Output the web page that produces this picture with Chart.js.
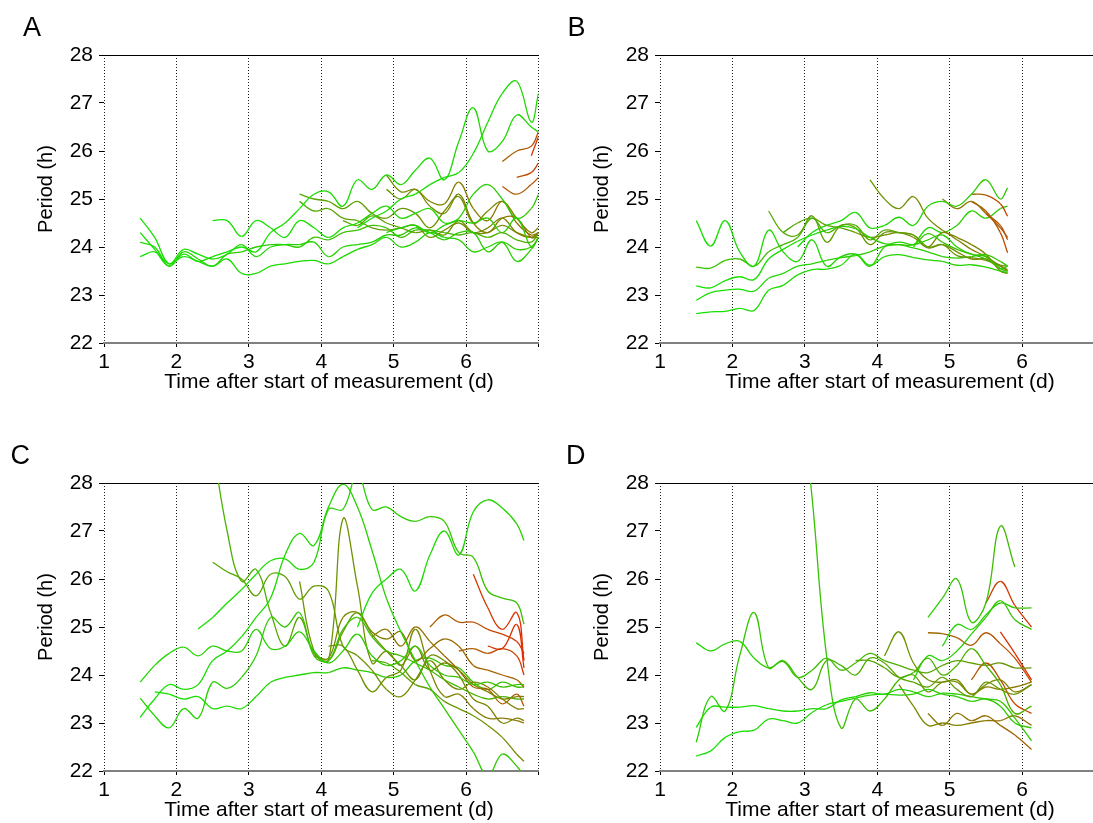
<!DOCTYPE html>
<html>
<head>
<meta charset="utf-8">
<script src="https://cdn.jsdelivr.net/npm/chart.js@4.4.1/dist/chart.umd.min.js"></script>
<style>
  html, body { margin: 0; padding: 0; background: #fff; overflow: hidden; }
  body { width: 1093px; height: 823px; position: relative; }
  .panel { position: absolute; width: 556px; height: 420px; }
</style>
</head>
<body>
<div class="panel" style="left:0;top:0"><canvas id="chartA" width="556" height="420"></canvas></div>
<div class="panel" style="left:556px;top:0"><canvas id="chartB" width="556" height="420"></canvas></div>
<div class="panel" style="left:0;top:428px"><canvas id="chartC" width="556" height="420"></canvas></div>
<div class="panel" style="left:556px;top:428px"><canvas id="chartD" width="556" height="420"></canvas></div>
<script>
// Panel A (time in days, period in hours)
const timesA = [1.5, 1.7, 1.9, 2.1, 2.3, 2.5, 2.7, 2.9, 3.1, 3.3, 3.5, 3.7, 3.9, 4.1, 4.3, 4.5, 4.7, 4.9, 5.1, 5.3, 5.5, 5.7, 5.9, 6.1, 6.3, 6.5, 6.7, 6.9, 7.0];
const a1 = [23.8, 23.9, 23.65, 23.8, 23.7, 23.6, 23.75, 23.45, 23.45, 23.6, 23.65, 23.7, 23.72, 23.65, 23.8, 23.95, 24.05, 24.2, 24.0, 24.1, 24.3, 24.2, 24.15, 23.9, 24.0, 24.1, 23.7, 23.95, 24.2];
const a2 = [24.6, 24.2, 23.65, 23.95, 23.85, 23.75, 23.85, 24.05, 23.8, 24.0, 24.05, 24.05, 24.1, 23.8, 24.0, 24.05, 24.1, 24.25, 24.25, 24.4, 24.3, 24.15, 24.3, 24.3, 23.9, 24.1, 23.95, 24.0, 24.2];
const a3 = [24.1, 24.0, 23.6, 23.9, 23.75, 23.6, 23.85, 23.9, 24.0, 24.05, 24.05, 24.0, 24.2, 24.15, 24.3, 24.35, 24.45, 24.4, 24.2, 24.35, 24.35, 24.3, 24.25, 24.3, 24.2, 24.3, 24.15, 24.1, 24.3];
const a4 = [24.3, 23.95, 23.6, 23.85, 23.7, 23.8, 23.9, 24.0, 23.9, 24.3, 24.5, 24.8, 25.1, 25.15, 24.85, 25.4, 25.2, 25.5, 25.3, 25.6, 25.85, 25.4, 26.2, 26.9, 26.0, 26.2, 26.75, 26.5, 26.4];
const a5 = [null, null, null, null, null, 24.55, 24.55, 24.22, 24.55, 24.4, 24.2, 24.55, 24.4, 24.2, 24.4, 24.5, 24.7, 24.85, 24.6, 24.7, 24.8, 24.5, 24.55, 24.5, 24.6, 24.3, 24.6, 24.0, 24.2];
const a6 = [null, null, null, null, null, null, null, null, null, null, null, null, null, null, null, 24.4, 24.6, 24.75, 25.0, 25.1, 25.3, 25.45, 25.55, 25.95, 26.6, 27.2, 27.45, 26.6, 27.2];
const a7 = [null, null, null, null, null, null, null, null, null, null, null, null, null, null, null, null, null, 24.3, 24.4, 24.45, 24.3, 24.45, 24.6, 25.1, 25.3, 25.0, 24.6, 24.8, 25.1];
const a8 = [null, null, null, null, null, null, null, null, null, null, null, 25.1, 25.0, 24.95, 24.8, 24.95, 24.7, 24.6, 24.8, 24.7, 24.4, 24.75, 25.05, 24.5, 24.75, 24.95, 24.6, 24.3, 24.4];
const a9 = [null, null, null, null, null, null, null, null, null, null, null, 24.95, 24.75, 24.8, 24.6, 24.55, 24.4, 24.35, 24.4, 24.45, 24.2, 24.35, 24.5, 24.3, 24.4, 24.6, 24.3, 24.2, 24.3];
const a10 = [null, null, null, null, null, null, null, null, null, null, null, null, null, null, null, null, null, 25.5, 25.15, 25.2, 24.95, 24.9, 25.35, 24.8, 24.55, 24.95, 24.5, 24.25, 24.3];
const a11 = [null, null, null, null, null, null, null, null, null, null, null, null, null, null, null, null, null, 25.2, 25.0, 25.2, 24.85, 24.7, 25.1, 24.5, 24.3, 24.6, 24.6, 24.2, 24.25];
const a12 = [null, null, null, null, null, null, null, null, null, null, null, null, null, null, 24.55, 24.45, 24.65, 24.5, 24.4, 24.3, 24.35, 24.25, 24.55, 24.3, 24.3, 24.45, 24.3, 24.2, 24.2];
const a13 = [null, null, null, null, null, null, null, null, null, null, null, null, null, null, null, null, null, null, null, null, null, null, null, null, null, 25.78, 26.0, 26.1, 26.4];
const a14 = [null, null, null, null, null, null, null, null, null, null, null, null, null, null, null, null, null, null, null, null, null, null, null, null, null, 25.26, 25.1, 25.3, 25.45];
const a15 = [null, null, null, null, null, null, null, null, null, null, null, null, null, null, null, null, null, null, null, null, null, null, null, null, null, null, 25.45, 25.55, 25.75];
const a16 = [null, null, null, null, null, null, null, null, null, null, null, null, null, null, null, null, null, null, null, null, null, null, null, null, null, null, null, 25.9, 26.3];

// Panel B
const timesB = [1.5, 1.7, 1.9, 2.1, 2.3, 2.5, 2.7, 2.9, 3.1, 3.3, 3.5, 3.7, 3.9, 4.1, 4.3, 4.5, 4.7, 4.9, 5.1, 5.3, 5.5, 5.7, 5.8];
const b1 = [24.55, 24.02, 24.55, 23.9, 23.6, 24.35, 23.9, 23.7, 24.15, 23.6, 23.8, 23.85, 23.6, 24.0, 24.1, 24.05, 24.15, 24.25, 24.0, 23.85, 23.8, 23.55, 23.6];
const b2 = [23.58, 23.56, 23.72, 23.75, 23.6, 23.9, 24.05, 24.2, 24.6, 24.3, 24.45, 24.45, 24.15, 24.35, 24.3, 24.25, 24.0, 24.05, 23.82, 23.78, 23.72, 23.6, 23.53];
const b3 = [23.19, 23.15, 23.3, 23.38, 23.32, 23.75, 23.95, 24.12, 24.25, 24.35, 24.43, 24.38, 24.2, 24.07, 24.05, 23.98, 23.9, 23.8, 23.77, 23.8, 23.84, 23.7, 23.6];
const b4 = [22.89, 23.05, 23.1, 23.12, 23.08, 23.35, 23.45, 23.6, 23.65, 23.72, 23.78, 23.82, 23.9, 24.02, 24.05, 24.05, 24.28, 24.1, 23.95, 23.85, 23.75, 23.55, 23.49];
const b5 = [22.61, 22.65, 22.66, 22.72, 22.68, 23.1, 23.2, 23.42, 23.53, 23.54, 23.62, 23.85, 23.62, 23.8, 23.84, 23.78, 23.73, 23.7, 23.62, 23.63, 23.58, 23.5, 23.46];
const b6 = [null, null, null, null, null, 24.75, 24.3, 24.25, 24.65, 24.1, 24.45, 24.4, 24.05, 24.3, 24.3, 24.25, 23.98, 24.05, 23.9, 23.75, 23.75, 23.62, 23.6];
const b7 = [null, null, null, null, null, null, 24.3, 24.5, 24.6, 24.45, 24.4, 24.3, 24.2, 24.25, 24.3, 24.2, 24.0, 24.3, 24.15, 23.95, 23.8, 23.6, 23.5];
const b8 = [null, null, null, null, null, null, null, 24.0, 24.3, 24.45, 24.55, 24.72, 24.4, 24.45, 24.62, 24.45, 24.85, 24.95, 24.85, 25.1, 25.4, 25.0, 25.23];
const b9 = [null, null, null, null, null, null, null, null, null, null, null, null, 25.4, 25.0, 24.8, 25.05, 24.6, 24.35, 24.2, 24.05, 23.85, 23.5, 23.45];
const b10 = [null, null, null, null, null, null, null, null, null, null, null, null, null, null, null, null, null, 25.0, 24.8, 24.95, 24.7, 24.4, 24.2];
const b11 = [null, null, null, null, null, null, null, null, null, null, null, null, null, null, null, null, null, null, null, 25.1, 25.08, 24.9, 24.64];
const b12 = [null, null, null, null, null, null, null, null, null, null, null, null, null, null, null, null, null, null, null, 24.95, 24.75, 24.3, 23.88];
const b13 = [null, null, null, null, null, null, null, null, null, null, null, null, null, null, null, null, null, null, null, null, 24.7, 24.45, 24.15];
const b14 = [null, null, null, null, null, null, null, null, null, null, null, null, null, null, null, 24.0, 24.4, 24.3, 24.45, 24.75, 24.6, 24.8, 24.85];

// Panel C
const timesC = [1.5, 1.7, 1.9, 2.1, 2.3, 2.5, 2.7, 2.9, 3.1, 3.3, 3.5, 3.7, 3.9, 4.1, 4.3, 4.5, 4.7, 4.9, 5.1, 5.3, 5.5, 5.7, 5.9, 6.1, 6.3, 6.5, 6.7, 6.8];
const c1 = [23.85, 24.2, 24.45, 24.58, 24.4, 24.6, 24.5, 24.5, 24.95, 24.55, 24.6, 24.9, 24.5, 24.25, 24.5, 24.85, 24.4, 24.2, 24.3, 24.6, 24.2, 24.0, 23.95, 23.8, 23.85, 23.75, 23.8, 23.8];
const c2 = [23.52, 23.15, 22.9, 23.3, 23.1, 23.85, 23.72, 23.95, 24.4, 25.2, 25.0, 25.3, 24.4, 24.3, 24.95, 25.2, 24.8, 24.5, 24.4, 24.25, 24.1, 23.9, 23.75, 23.6, 23.5, 23.55, 23.5, 23.5];
const c3 = [23.12, 23.5, 23.8, 23.7, 23.8, 24.3, 24.5, 24.8, 25.2, 25.6, 26.5, 26.95, 26.7, 27.5, 27.97, 27.5, 26.6, 25.6, 24.9, 24.3, 23.75, 23.3, 22.85, 22.4, 21.9, 22.35, 22.1, 21.9];
const c4 = [null, null, null, null, 24.96, 25.2, 25.5, 25.78, 26.1, 26.38, 26.42, 26.2, 26.35, 27.45, 27.45, 28.2, 27.45, 27.5, 27.3, 27.2, 27.3, 27.2, 26.55, 26.45, 25.75, 25.6, 25.5, 25.06];
const c5 = [null, null, null, null, null, null, null, null, null, null, null, null, null, null, null, 25.0, 25.7, 26.0, 26.2, 25.75, 26.5, 27.0, 26.5, 27.4, 27.65, 27.48, 27.15, 26.8];
const c6 = [null, null, null, null, null, 28.8, 27.0, 25.95, 26.2, 25.3, 24.6, 25.2, 24.45, 24.3, 24.9, 25.3, 24.85, 24.5, 24.2, 23.9, 24.4, 24.3, 24.0, 23.5, 23.35, 23.0, 23.1, 23.05];
const c7 = [null, null, null, null, null, 26.35, 26.15, 26.0, 25.65, 26.1, 26.05, 25.58, 25.85, 25.75, 24.6, 24.4, 24.1, 23.7, 23.55, 23.9, 24.3, 23.9, 23.7, 23.85, 23.75, 23.5, 23.3, 23.3];
const c8 = [null, null, null, null, null, null, null, null, null, null, null, 25.95, 24.5, 24.3, 27.25, 25.85, 24.25, 24.5, 24.2, 24.6, 24.1, 24.25, 24.1, 23.8, 23.65, 23.5, 23.55, 23.55];
const c9 = [null, null, null, null, null, null, null, null, null, null, null, null, 24.4, 24.35, 25.2, 25.3, 24.9, 24.75, 24.9, 24.3, 24.55, 24.75, 24.6, 24.2, 24.1, 24.0, 23.9, 23.75];
const c10 = [null, null, null, null, null, null, null, null, null, null, null, null, null, 24.6, 24.6, 24.1, 23.65, 23.95, 24.1, 24.95, 24.1, 23.55, 23.6, 23.3, 23.1, 23.1, 23.05, 23.0];
const c11 = [null, null, null, null, null, null, null, null, null, null, null, null, null, null, null, null, 24.3, 24.25, 24.05, 23.8, 23.7, 23.45, 23.3, 23.15, 22.95, 22.7, 22.35, 22.2];
const c12 = [null, null, null, null, null, null, null, null, null, null, null, null, null, null, null, null, 24.8, 24.95, 24.6, 25.0, 24.7, 24.4, 24.1, 23.75, 23.7, 23.4, 23.6, 23.35];
const c13 = [null, null, null, null, null, null, null, null, null, null, null, null, null, null, null, null, null, null, null, null, 25.0, 25.25, 25.1, 25.1, 24.95, 24.85, 24.7, 24.45];
const c14 = [null, null, null, null, null, null, null, null, null, null, null, null, null, null, null, null, null, null, null, null, null, null, null, 26.1, 25.4, 24.95, 25.3, 24.3];
const c15 = [null, null, null, null, null, null, null, null, null, null, null, null, null, null, null, null, null, null, null, null, null, null, null, null, 24.6, 24.55, 25.05, 24.15];
const c16 = [null, null, null, null, null, null, null, null, null, null, null, null, null, null, null, null, null, null, null, null, null, null, 24.5, 24.55, 24.45, 24.55, 24.4, 24.0];
const c17 = [null, 23.65, 23.6, 23.5, 23.55, 23.3, 23.35, 23.3, 23.55, 23.85, 23.95, 24.0, 24.05, 24.05, 24.15, 24.1, 24.05, 23.95, 24.0, 24.3, 24.35, 24.2, 24.15, 23.85, 23.7, 23.85, 23.75, 23.75];

// Panel D
const timesD = [1.5, 1.7, 1.9, 2.1, 2.3, 2.5, 2.7, 2.9, 3.1, 3.3, 3.5, 3.7, 3.9, 4.1, 4.3, 4.5, 4.7, 4.9, 5.1, 5.3, 5.5, 5.7, 5.9, 6.13];
const d1 = [24.67, 24.5, 24.65, 24.7, 24.35, 24.15, 24.28, 23.95, 24.1, 24.35, 24.1, 24.25, 24.45, 24.3, 24.2, 24.1, 24.05, 24.2, 24.3, 24.25, 24.2, 24.25, 24.15, 24.15];
const d2 = [22.6, 23.55, 23.25, 24.4, 25.3, 24.15, 24.3, 23.95, 23.7, 24.3, 24.2, 24.0, 24.35, 24.25, 23.95, 23.85, 23.75, 23.95, 23.7, 23.55, 23.85, 23.7, 23.6, 23.8];
const d3 = [22.91, 23.33, 23.33, 23.33, 23.36, 23.3, 23.25, 23.25, 23.3, 23.3, 23.48, 23.55, 23.63, 23.6, 23.7, 23.65, 23.55, 23.62, 23.6, 23.55, 23.5, 23.45, 23.1, 22.63];
const d4 = [22.31, 22.42, 22.7, 22.82, 22.85, 23.08, 23.05, 23.0, 23.22, 23.38, 23.45, 23.52, 23.58, 23.6, 23.58, 23.6, 23.7, 23.6, 23.55, 23.45, 23.5, 23.35, 23.0, 22.9];
const d5 = [null, null, null, null, null, null, null, 30.5, 27.7, 24.4, 22.9, 23.5, 23.25, 23.5, 23.9, 24.05, 24.35, 24.0, 24.2, 24.55, 24.2, 23.8, 23.2, 23.35];
const d6 = [null, null, null, null, null, null, null, null, null, null, null, null, null, null, null, null, 25.2, 25.6, 26.0, 25.1, 25.5, 27.1, 26.25, null];
const d7 = [null, null, null, null, null, null, null, null, null, null, null, null, null, null, null, null, null, 24.6, 25.05, 24.95, 25.25, 25.5, 25.4, 25.4];
const d8 = [null, null, null, null, null, null, null, null, null, null, null, null, null, null, null, 23.9, 24.4, 24.3, 24.5, 24.85, 25.2, 25.55, 25.15, 24.95];
const d9 = [null, null, null, null, null, null, null, null, null, null, null, null, null, 24.4, 24.9, 24.25, 23.9, 23.85, 23.9, 23.6, 23.75, 23.7, 23.75, 23.85];
const d10 = [null, null, null, null, null, null, null, null, null, null, null, 24.3, 24.3, 24.15, 23.95, 24.0, 23.65, 23.85, 23.85, 23.6, 23.8, 23.9, 23.65, 23.8];
const d11 = [null, null, null, null, null, null, null, null, null, null, null, null, null, null, 23.8, 23.35, 22.95, 23.0, 22.95, 23.0, 23.05, 23.05, 23.15, 22.95];
const d12 = [null, null, null, null, null, null, null, null, null, null, null, null, null, null, null, null, 23.2, 22.95, 23.2, 23.05, 23.15, 22.95, 22.75, 22.45];
const d13 = [null, null, null, null, null, null, null, null, null, null, null, null, null, null, null, null, 24.88, 24.86, 24.78, 24.62, 24.88, 24.65, 24.35, 23.85];
const d14 = [null, null, null, null, null, null, null, null, null, null, null, null, null, null, null, null, null, null, null, null, 25.5, 25.95, 25.45, 25.0];
const d15 = [null, null, null, null, null, null, null, null, null, null, null, null, null, null, null, null, null, null, null, null, null, 24.9, 24.45, 23.9];
const d16 = [null, null, null, null, null, null, null, null, null, null, null, null, null, null, null, null, null, null, null, 23.9, 24.25, 23.9, 23.4, 23.2];

// Colour shift along each trace: 0 = green, 1 = red (start, end)
const shadeA = [[0, 0.1], [0, 0.15], [0.05, 0.3], [0, 0.05], [0, 0.1], [0, 0.05], [0.05, 0.15], [0.3, 0.55], [0.3, 0.55], [0.45, 0.65], [0.4, 0.6], [0.3, 0.55], [0.7, 0.85], [0.72, 0.82], [0.8, 0.9], [0.95, 1]];
const shadeB = [[0, 0.15], [0.15, 0.45], [0, 0.15], [0, 0.2], [0, 0.1], [0.3, 0.55], [0.3, 0.6], [0, 0.15], [0.4, 0.6], [0.55, 0.8], [0.7, 0.95], [0.7, 0.85], [0.75, 0.9], [0.05, 0.15]];
const shadeC = [[0.05, 0.2], [0.05, 0.3], [0, 0.15], [0, 0.2], [0, 0.1], [0.25, 0.55], [0.3, 0.55], [0.4, 0.55], [0.45, 0.75], [0.4, 0.6], [0.3, 0.5], [0.55, 0.8], [0.7, 0.95], [0.9, 1], [0.95, 1], [0.7, 0.95], [0, 0.2]];
const shadeD = [[0.05, 0.45], [0.1, 0.45], [0, 0.15], [0, 0.15], [0.15, 0.3], [0.1, 0.25], [0.05, 0.15], [0.05, 0.2], [0.4, 0.6], [0.3, 0.55], [0.45, 0.65], [0.55, 0.7], [0.65, 0.85], [0.85, 1], [0.95, 1], [0.75, 0.9]];

const FONT = '"Liberation Sans", Arial, sans-serif';
Chart.defaults.font.family = FONT;
Chart.defaults.color = '#000';

function lineColor(t) {
  const r = Math.round(20 + 210 * t);
  const g = Math.round(225 - 185 * t);
  return `rgb(${r},${g},0)`;
}

function makeDataset(times, values, shade) {
  const first = values.findIndex(v => v !== null);
  let last = values.length - 1;
  while (values[last] === null) last--;
  return {
    data: values.map((v, i) => ({ x: times[i], y: v })),
    borderColor: lineColor(shade[0]),
    borderWidth: 1.3,
    pointRadius: 0,
    tension: 0.4,
    spanGaps: false,
    segment: {
      borderColor: ctx => {
        const f = (ctx.p0DataIndex - first) / Math.max(1, last - first);
        return lineColor(shade[0] + (shade[1] - shade[0]) * f);
      }
    }
  };
}

// Panel letter and axis titles
const panelText = {
  id: 'panelText',
  afterDraw(chart, args, opts) {
    const ctx = chart.ctx;
    ctx.save();
    ctx.fillStyle = '#000';
    ctx.font = '27px ' + FONT;
    ctx.textAlign = 'left';
    ctx.textBaseline = 'alphabetic';
    ctx.fillText(opts.letter, opts.letterX, 36);
    ctx.font = '21px ' + FONT;
    ctx.textAlign = 'center';
    ctx.textBaseline = 'middle';
    ctx.fillText('Time after start of measurement (d)', opts.titleX, 382);
    ctx.translate(46, 189);
    ctx.rotate(-Math.PI / 2);
    ctx.font = '20px ' + FONT;
    ctx.fillText('Period (h)', 0, 0);
    ctx.restore();
  }
};

function makeChart(id, times, series, shades, letter, letterX, titleX) {
  new Chart(document.getElementById(id), {
    type: 'line',
    data: { datasets: series.map((s, i) => makeDataset(times, s, shades[i])) },
    options: {
      responsive: false,
      animation: false,
      events: [],
      layout: { padding: { left: 0, top: 55, right: 17.5, bottom: 27 } },
      plugins: {
        legend: { display: false },
        tooltip: { enabled: false },
        panelText: { letter, letterX, titleX }
      },
      scales: {
        x: {
          type: 'linear',
          position: 'bottom',
          min: 1,
          max: 7,
          afterFit: s => { s.height = 50; },
          ticks: {
            stepSize: 1,
            autoSkip: false,
            maxRotation: 0,
            padding: 3,
            font: { size: 21 },
            callback: v => (v === 7 ? '' : v)
          },
          grid: {
            color: '#222',
            lineWidth: 1,
            drawTicks: true,
            tickLength: 4,
            tickColor: '#000',
            tickBorderDash: []
          },
          border: { display: true, color: '#808080', width: 2, dash: [1, 2] }
        },
        x2: {
          type: 'linear',
          position: 'top',
          min: 1,
          max: 7,
          afterFit: s => { s.height = 0; },
          ticks: { display: false },
          grid: { display: false },
          border: { display: true, color: '#000', width: 1 }
        },
        y: {
          type: 'linear',
          min: 22,
          max: 28,
          afterFit: s => { s.width = 104; },
          ticks: { stepSize: 1, padding: 6, font: { size: 21 } },
          grid: {
            drawOnChartArea: false,
            drawTicks: true,
            tickLength: 5,
            color: '#000'
          },
          border: { display: false }
        }
      }
    },
    plugins: [panelText]
  });
}

makeChart('chartA', timesA, [a1, a2, a3, a4, a5, a6, a7, a8, a9, a10, a11, a12, a13, a14, a15, a16], shadeA, 'A', 23, 329);
makeChart('chartB', timesB, [b1, b2, b3, b4, b5, b6, b7, b8, b9, b10, b11, b12, b13, b14], shadeB, 'B', 11.5, 334);
makeChart('chartC', timesC, [c1, c2, c3, c4, c5, c6, c7, c8, c9, c10, c11, c12, c13, c14, c15, c16, c17], shadeC, 'C', 10.5, 329);
makeChart('chartD', timesD, [d1, d2, d3, d4, d5, d6, d7, d8, d9, d10, d11, d12, d13, d14, d15, d16], shadeD, 'D', 10, 334);
</script>
</body>
</html>
